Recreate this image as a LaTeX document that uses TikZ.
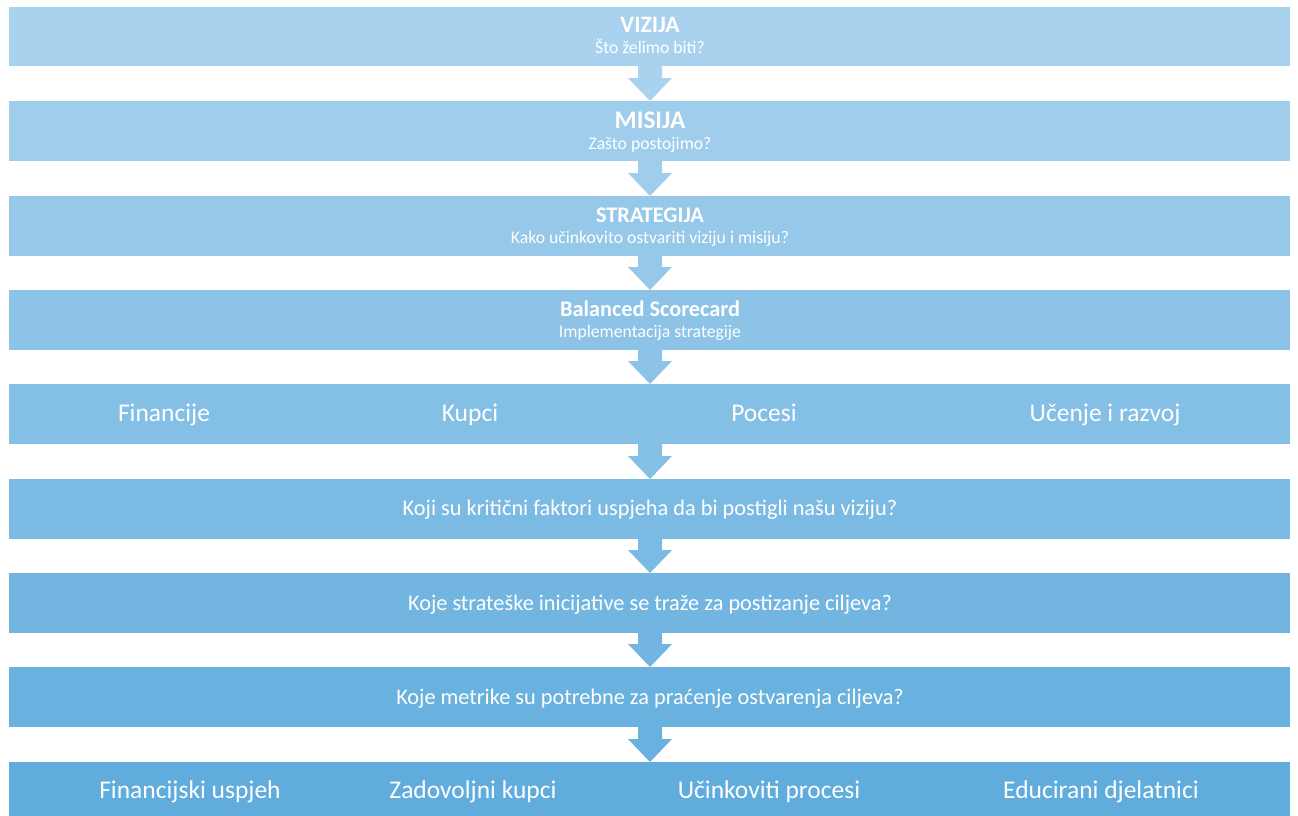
\documentclass[tikz,border=0pt]{standalone}
\usepackage{fontspec}
\setmainfont{Carlito}
\begin{document}
\begin{tikzpicture}[x=1pt,y=-1pt,
  band/.style={fill=#1,draw=none},
  txt/.style={text=white,inner sep=0pt,anchor=base},
  ttl/.style={txt,font=\bfseries\fontsize{22.3}{26}\selectfont},
  sub/.style={txt,font=\fontsize{17.7}{21}\selectfont},
  big/.style={txt,font=\fontsize{25.5}{30}\selectfont},
  mid/.style={txt,font=\fontsize{22.3}{26}\selectfont},
  arr/.style={fill=#1,draw=none}]
\useasboundingbox (0,0) rectangle (1298,816);
\definecolor{c1}{RGB}{168,210,237}
\definecolor{c2}{RGB}{159,205,235}
\definecolor{c3}{RGB}{150,200,233}
\definecolor{c4}{RGB}{141,195,231}
\definecolor{c5}{RGB}{132,191,229}
\definecolor{c6}{RGB}{123,186,227}
\definecolor{c7}{RGB}{114,181,225}
\definecolor{c8}{RGB}{105,177,223}
\definecolor{c9}{RGB}{96,172,221}
% bands
\foreach \i/\y in {1/7,2/101,3/196,4/290,5/384,6/479,7/573,8/667}{
  \path[band=c\i] (9,\y) rectangle (1290,\y+59.5);
}
\path[band=c9] (9,762) rectangle (1290,820);
% arrows
\foreach \i/\y/\n in {1/66/101,2/160/196,3/255/290,4/349/384,5/443/479,6/538/573,7/632/667,8/727/762}{
  \path[arr=c\i] (638,\y) -- (662,\y) -- (662,\n-23) -- (672,\n-23) -- (650,\n) -- (628,\n-23) -- (638,\n-23) -- cycle;
}
% texts
\node[ttl,font=\bfseries\fontsize{23.5}{27}\selectfont] (t1) at (650,33) {VIZIJA};
\node[sub] (s1) at (650,53) {Što želimo biti?};
\node[ttl,font=\bfseries\fontsize{25.3}{29}\selectfont] (t2) at (650,128) {MISIJA};
\node[sub] (s2) at (650,149) {Zašto postojimo?};
\node[ttl] (t3) at (650,222) {STRATEGIJA};
\node[sub] (s3) at (650,243) {Kako učinkovito ostvariti viziju i misiju?};
\node[ttl] (t4) at (650,316) {Balanced Scorecard};
\node[sub] (s4) at (650,337) {Implementacija strategije};
\node[big] (p1) at (164,421) {Financije};
\node[big] (p2) at (470,421) {Kupci};
\node[big] (p3) at (764,421) {Pocesi};
\node[big] (p4) at (1105,421) {Učenje i razvoj};
\node[mid] (q1) at (650,515) {Koji su kritični faktori uspjeha da bi postigli našu viziju?};
\node[mid] (q2) at (650,610) {Koje strateške inicijative se traže za postizanje ciljeva?};
\node[mid] (q3) at (650,704) {Koje metrike su potrebne za praćenje ostvarenja ciljeva?};
\node[big] (r1) at (190,798) {Financijski uspjeh};
\node[big] (r2) at (473,798) {Zadovoljni kupci};
\node[big] (r3) at (769,798) {Učinkoviti procesi};
\node[big] (r4) at (1101,798) {Educirani djelatnici};
\end{tikzpicture}
\end{document}
